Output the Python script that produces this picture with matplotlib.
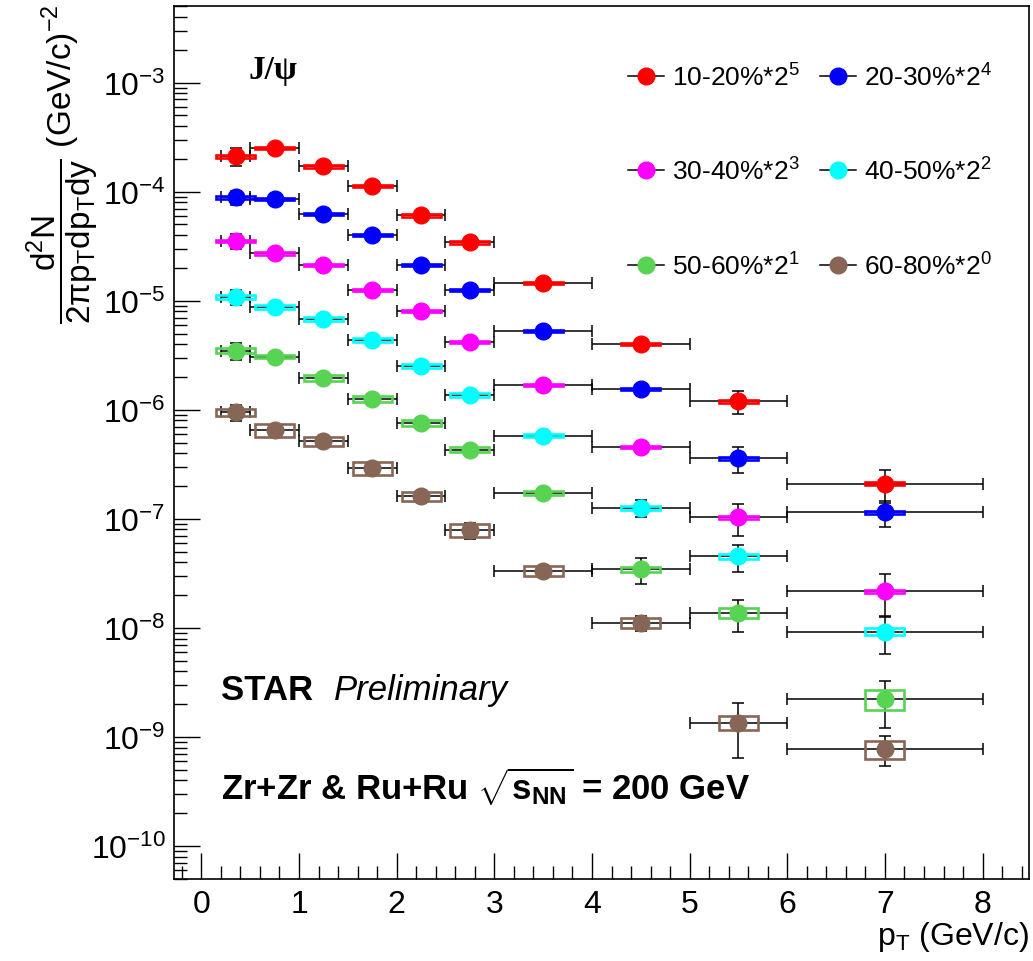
import numpy as np
import matplotlib
matplotlib.use("Agg")
import matplotlib.pyplot as plt
from matplotlib.lines import Line2D
from matplotlib.patches import Rectangle
from matplotlib.ticker import MultipleLocator, LogLocator, FuncFormatter, NullFormatter

plt.rcParams['font.family'] = ['Liberation Sans', 'DejaVu Sans']
plt.rcParams['mathtext.fontset'] = 'custom'
plt.rcParams['mathtext.rm'] = 'Liberation Sans'
plt.rcParams['mathtext.it'] = 'Liberation Sans:italic'
plt.rcParams['mathtext.bf'] = 'Liberation Sans:bold'
plt.rcParams['mathtext.sf'] = 'Liberation Sans'

# pT binning (GeV/c)
pt_edges = [0.2, 0.5, 1.0, 1.5, 2.0, 2.5, 3.0, 4.0, 5.0, 6.0, 8.0]
pt_centres = [0.35, 0.75, 1.25, 1.75, 2.25, 2.75, 3.5, 4.5, 5.5, 7.0]

labels = ['10-20%*2$^{5}$', '20-30%*2$^{4}$', '30-40%*2$^{3}$',
          '40-50%*2$^{2}$', '50-60%*2$^{1}$', '60-80%*2$^{0}$']
colors = ['#ff0000', '#0000ff', '#ff00ff', '#00ffff', '#59d354', '#876656']

# yields as drawn (already scaled by 2^n)
y_10_20 = [2.10e-4, 2.50e-4, 1.70e-4, 1.13e-4, 6.05e-5, 3.43e-5, 1.45e-5, 3.99e-6, 1.20e-6, 2.10e-7]
y_20_30 = [8.85e-5, 8.59e-5, 6.22e-5, 4.00e-5, 2.14e-5, 1.25e-5, 5.25e-6, 1.55e-6, 3.58e-7, 1.15e-7]
y_30_40 = [3.54e-5, 2.72e-5, 2.14e-5, 1.25e-5, 8.00e-6, 4.16e-6, 1.70e-6, 4.54e-7, 1.03e-7, 2.18e-8]
y_40_50 = [1.09e-5, 8.75e-6, 6.84e-6, 4.34e-6, 2.52e-6, 1.36e-6, 5.81e-7, 1.27e-7, 4.54e-8, 9.25e-9]
y_50_60 = [3.48e-6, 3.07e-6, 1.97e-6, 1.25e-6, 7.63e-7, 4.32e-7, 1.72e-7, 3.46e-8, 1.37e-8, 2.22e-9]
y_60_80 = [9.50e-7, 6.55e-7, 5.15e-7, 2.94e-7, 1.62e-7, 7.83e-8, 3.35e-8, 1.11e-8, 1.35e-9, 7.80e-10]

# relative statistical errors
stat_10_20 = [0.19, 0.05, 0.05, 0.05, 0.06, 0.07, 0.08, 0.10, 0.23, 0.33]
stat_20_30 = [0.15, 0.06, 0.05, 0.05, 0.06, 0.07, 0.09, 0.12, 0.27, 0.26]
stat_30_40 = [0.16, 0.06, 0.05, 0.06, 0.07, 0.08, 0.10, 0.12, 0.33, 0.42]
stat_40_50 = [0.16, 0.06, 0.05, 0.06, 0.07, 0.08, 0.10, 0.18, 0.28, 0.38]
stat_50_60 = [0.17, 0.06, 0.06, 0.06, 0.07, 0.08, 0.10, 0.27, 0.33, 0.46]
stat_60_80 = [0.17, 0.06, 0.06, 0.07, 0.08, 0.17, 0.10, 0.15, 0.52, 0.31]

# relative systematic errors
sys_10_20 = [0.025, 0.025, 0.025, 0.025, 0.025, 0.025, 0.025, 0.025, 0.03, 0.03]
sys_20_30 = [0.025, 0.025, 0.025, 0.025, 0.025, 0.025, 0.025, 0.025, 0.03, 0.03]
sys_30_40 = [0.025, 0.025, 0.025, 0.025, 0.025, 0.025, 0.025, 0.025, 0.03, 0.03]
sys_40_50 = [0.045, 0.04, 0.04, 0.045, 0.04, 0.04, 0.04, 0.04, 0.05, 0.07]
sys_50_60 = [0.056, 0.034, 0.063, 0.06, 0.06, 0.056, 0.045, 0.053, 0.108, 0.207]
sys_60_80 = [0.08, 0.14, 0.10, 0.14, 0.10, 0.137, 0.10, 0.108, 0.147, 0.185]

yields = [y_10_20, y_20_30, y_30_40, y_40_50, y_50_60, y_60_80]
stats = [stat_10_20, stat_20_30, stat_30_40, stat_40_50, stat_50_60, stat_60_80]
syss = [sys_10_20, sys_20_30, sys_30_40, sys_40_50, sys_50_60, sys_60_80]

W, H = 1033, 962
fig = plt.figure(figsize=(W / 100, H / 100), dpi=100)
ax = fig.add_axes([174 / W, 1 - 880 / H, (1028.5 - 174) / W, (880 - 7.3) / H])

x = np.array(pt_centres)
edges = np.array(pt_edges)
xlo = x - edges[:-1]
xhi = edges[1:] - x
box_hw = 0.2

for vals, st, sy, col in zip(yields, stats, syss, colors):
    v = np.array(vals)
    st = np.array(st)
    sy = np.array(sy)
    ax.errorbar(x, v, xerr=[xlo, xhi], yerr=v * st, fmt='none', ecolor='black',
                elinewidth=1.1, capsize=4, capthick=1.1, zorder=2)
    for xc, vc, s in zip(x, v, sy):
        ax.add_patch(Rectangle((xc - box_hw, vc * (1 - s)), 2 * box_hw, 2 * vc * s,
                               fill=False, edgecolor=col, lw=1.9, zorder=3))
    ax.plot(x, v, 'o', color=col, mec=col, ms=12, zorder=4)

ax.set_xlim(-0.28, 8.47)
ax.set_yscale('log')
ax.set_ylim(5e-11, 5e-3)

ax.xaxis.set_major_locator(MultipleLocator(1))
ax.xaxis.set_minor_locator(MultipleLocator(0.2))
ax.yaxis.set_major_locator(LogLocator(base=10, numticks=20))
ax.yaxis.set_minor_locator(LogLocator(base=10, subs=np.arange(2, 10), numticks=20))
ax.yaxis.set_major_formatter(FuncFormatter(lambda v, p: r'$10^{%d}$' % round(np.log10(v))))
ax.yaxis.set_minor_formatter(NullFormatter())
ax.tick_params(which='both', direction='in', top=False, right=False, width=1.0, labelsize=23)
ax.tick_params(which='major', length=19)
ax.tick_params(which='minor', length=9.5)
ax.tick_params(axis='x', pad=7)
ax.tick_params(axis='y', pad=6)
for sp in ax.spines.values():
    sp.set_linewidth(1.2)

ax.set_xlabel(r'p$_{\mathrm{T}}$ (GeV/c)', fontsize=23, loc='right', labelpad=0)

fig.text(62 / W, 1 - 4 / H,
         r'$\dfrac{\mathrm{d^{2}N}}{\mathrm{2\pi p_{T}dp_{T}dy}}$ (GeV/c)$^{-2}$',
         rotation=90, ha='center', va='top', fontsize=24)

# legend: row-wise ordering in two columns
handles = [Line2D([], [], color='black', lw=1.1, marker='o', ms=12, mfc=c, mec=c) for c in colors]
order = [0, 2, 4, 1, 3, 5]
ax.legend([handles[i] for i in order], [labels[i] for i in order], ncol=2,
          loc='upper left', bbox_to_anchor=(628 / W, 1 - 64 / H), bbox_transform=fig.transFigure,
          frameon=False, fontsize=19, handlelength=1.35, handletextpad=0.3,
          columnspacing=0.8, labelspacing=2.55, borderpad=0, borderaxespad=0)

fig.text(248 / W, 1 - 79 / H, 'J/ψ', family='Liberation Serif', weight='bold',
         fontsize=24, va='baseline')
fig.text(221 / W, 1 - 700 / H, 'STAR', weight='bold', fontsize=25, va='baseline')
fig.text(334 / W, 1 - 700 / H, 'Preliminary', style='italic', fontsize=25, va='baseline')
fig.text(221 / W, 1 - 800 / H,
         r'Zr+Zr & Ru+Ru $\sqrt{\mathbf{s}_{\mathbf{NN}}}$ = 200 GeV',
         weight='bold', fontsize=25, va='baseline')

fig.savefig('out.png', dpi=100)
